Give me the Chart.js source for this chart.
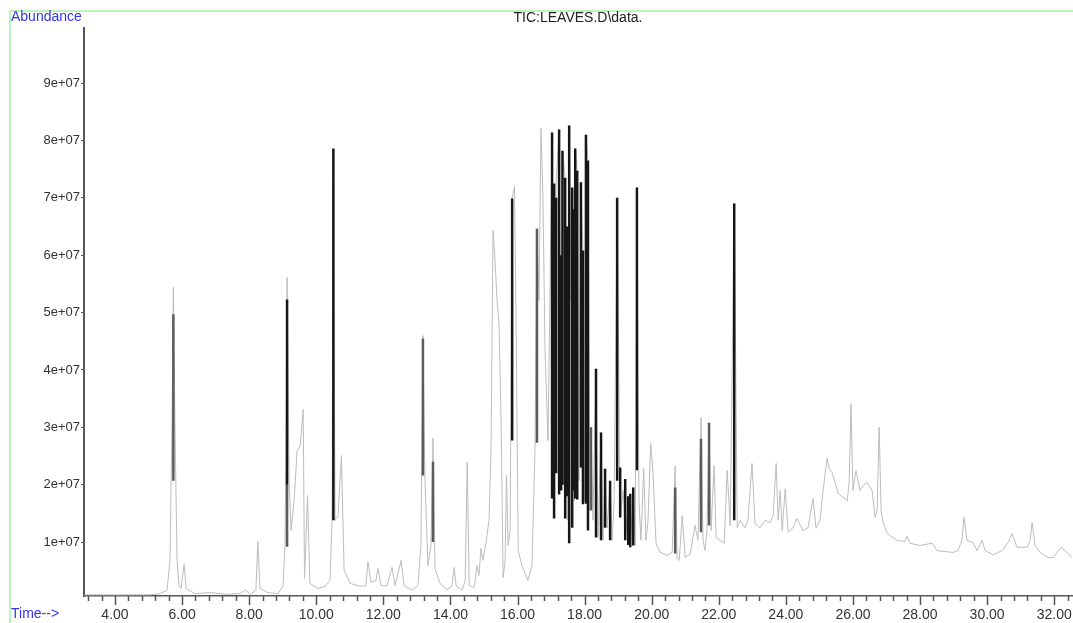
<!DOCTYPE html>
<html>
<head>
<meta charset="utf-8">
<script src="https://cdn.jsdelivr.net/npm/chart.js@4.4.1/dist/chart.umd.min.js"></script>
<style>
  html, body { margin: 0; padding: 0; background: #fff; }
  #wrap { width: 1073px; height: 623px; }
</style>
</head>
<body>
<div id="wrap"><canvas id="tic" width="1073" height="623"></canvas></div>
<script>
// TIC trace: retention time (min) and abundance (x 1e7)
const traceTime = [
  3.08, 5.04, 5.34, 5.55, 5.64, 5.70, 5.74, 5.79, 5.85, 5.91, 5.97, 6.06, 6.12, 6.39, 6.83, 7.28, 7.73, 7.88, 8.03, 8.20,
  8.26, 8.32, 8.56, 8.86, 9.01, 9.07, 9.13, 9.19, 9.25, 9.34, 9.43, 9.52, 9.61, 9.65, 9.74, 9.81, 10.05, 10.26, 10.41, 10.47,
  10.51, 10.56, 10.65, 10.75, 10.83, 11.01, 11.30, 11.48, 11.54, 11.63, 11.78, 11.84, 11.93, 12.11, 12.26, 12.35, 12.53, 12.62, 12.86, 13.03,
  13.12, 13.18, 13.24, 13.33, 13.42, 13.48, 13.54, 13.69, 13.90, 14.05, 14.11, 14.17, 14.35, 14.44, 14.50, 14.56, 14.71, 14.79, 14.85, 14.91,
  14.97, 15.06, 15.15, 15.21, 15.27, 15.33, 15.39, 15.45, 15.51, 15.57, 15.63, 15.67, 15.72, 15.78, 15.84, 15.91, 15.96, 16.02, 16.13, 16.31,
  16.43, 16.52, 16.58, 16.64, 16.70, 16.76, 16.82, 16.91, 17.03, 17.09, 17.15, 17.24, 17.30, 17.34, 17.42, 17.48, 17.54, 17.60, 17.63, 17.69,
  17.72, 17.78, 17.83, 17.89, 17.95, 18.00, 18.04, 18.10, 18.16, 18.19, 18.25, 18.34, 18.40, 18.49, 18.55, 18.61, 18.67, 18.76, 18.82, 18.88,
  18.97, 19.06, 19.15, 19.21, 19.30, 19.36, 19.45, 19.51, 19.56, 19.62, 19.68, 19.76, 19.83, 19.89, 19.97, 20.04, 20.13, 20.25, 20.46, 20.61,
  20.70, 20.76, 20.82, 20.91, 21.00, 21.15, 21.29, 21.38, 21.47, 21.53, 21.59, 21.65, 21.71, 21.77, 21.86, 21.92, 22.04, 22.16, 22.25, 22.34,
  22.46, 22.55, 22.64, 22.78, 22.87, 22.99, 23.08, 23.23, 23.38, 23.53, 23.62, 23.71, 23.77, 23.83, 23.89, 23.98, 24.07, 24.21, 24.33, 24.51,
  24.66, 24.81, 24.90, 25.02, 25.11, 25.23, 25.29, 25.38, 25.56, 25.83, 25.89, 25.94, 26.00, 26.09, 26.21, 26.33, 26.42, 26.57, 26.66, 26.72,
  26.78, 26.84, 26.90, 27.02, 27.32, 27.55, 27.61, 27.70, 28.00, 28.36, 28.51, 28.99, 29.13, 29.25, 29.31, 29.40, 29.58, 29.70, 29.85, 29.94,
  30.17, 30.45, 30.62, 30.74, 30.89, 31.19, 31.28, 31.34, 31.43, 31.58, 31.82, 31.97, 32.21, 32.42, 32.53
];
const traceAbund = [
  0.08, 0.08, 0.10, 0.16, 0.68, 3.12, 5.44, 2.94, 0.68, 0.24, 0.19, 0.61, 0.19, 0.10, 0.12, 0.09, 0.10, 0.17, 0.09, 0.16,
  1.01, 0.19, 0.12, 0.10, 0.24, 0.94, 5.61, 2.07, 1.20, 1.72, 2.60, 2.67, 3.31, 0.37, 1.81, 0.28, 0.19, 0.23, 0.33, 1.38,
  7.82, 1.38, 1.46, 2.51, 0.51, 0.28, 0.23, 0.24, 0.66, 0.30, 0.33, 0.54, 0.24, 0.24, 0.56, 0.24, 0.68, 0.24, 0.16, 0.24,
  0.94, 4.60, 2.07, 0.59, 0.94, 2.81, 0.54, 0.28, 0.17, 0.24, 0.56, 0.24, 0.16, 0.33, 2.39, 0.24, 0.21, 0.59, 0.42, 0.89,
  0.68, 0.99, 1.38, 2.60, 6.43, 5.91, 5.21, 4.77, 3.12, 0.38, 0.68, 2.16, 0.94, 1.20, 6.99, 7.20, 4.69, 0.85, 0.59, 0.33,
  0.59, 2.60, 6.46, 5.21, 8.21, 6.95, 4.34, 2.77, 8.14, 1.72, 7.25, 8.19, 2.07, 7.82, 7.35, 1.38, 8.26, 5.21, 7.18, 1.72,
  7.86, 7.47, 2.07, 7.27, 6.08, 1.72, 8.10, 7.65, 1.55, 3.00, 1.38, 4.02, 1.08, 2.91, 1.03, 2.28, 1.25, 2.07, 1.03, 1.72,
  7.00, 1.43, 1.90, 1.03, 1.72, 0.91, 1.95, 0.94, 7.18, 1.72, 1.03, 2.28, 1.03, 1.38, 2.72, 2.20, 0.98, 0.82, 0.77, 0.82,
  2.33, 0.71, 0.68, 1.46, 0.73, 0.80, 1.29, 1.03, 3.17, 1.03, 0.85, 1.20, 3.08, 1.20, 2.33, 1.08, 1.03, 0.98, 2.25, 1.29,
  6.90, 1.25, 1.38, 1.25, 1.38, 2.37, 1.32, 1.25, 1.38, 1.34, 1.46, 2.37, 1.38, 1.90, 1.20, 1.93, 1.17, 1.25, 1.41, 1.20,
  1.25, 1.76, 1.24, 1.38, 1.90, 2.46, 2.28, 2.21, 1.85, 1.72, 2.07, 3.41, 1.90, 2.25, 1.90, 2.00, 2.04, 1.90, 1.43, 1.55,
  3.00, 1.55, 1.34, 1.15, 1.03, 1.01, 1.10, 0.98, 0.94, 0.98, 0.85, 0.82, 0.85, 1.03, 1.43, 1.03, 0.99, 0.85, 1.03, 0.85,
  0.78, 0.85, 0.99, 1.15, 0.91, 0.91, 1.03, 1.34, 0.94, 0.82, 0.73, 0.73, 0.91, 0.80, 0.73
];

// integrated peaks drawn in black: time, lower and upper abundance (x 1e7)
const peakTime = [9.13, 10.51, 15.84, 17.03, 17.09, 17.15, 17.24, 17.30, 17.34, 17.42, 17.48, 17.54, 17.63, 17.69, 17.72, 17.78,
  17.89, 17.95, 18.04, 18.10, 18.34, 18.49, 18.61, 18.76, 18.97, 19.06, 19.21, 19.30, 19.36, 19.45, 19.56, 22.46];
const peakLow = [2.00, 1.38, 2.77, 1.76, 1.41, 2.20, 1.83, 1.90, 2.00, 1.41, 1.80, 0.98, 1.25, 1.90, 1.76, 1.74,
  2.30, 1.66, 1.67, 1.20, 1.08, 1.03, 1.25, 1.03, 2.07, 1.43, 1.03, 0.95, 0.91, 0.94, 2.25, 1.38];
const peakHigh = [5.23, 7.86, 6.99, 8.14, 7.25, 7.00, 8.19, 6.00, 7.82, 7.35, 6.50, 8.26, 7.18, 6.80, 7.86, 7.47,
  7.27, 6.08, 8.10, 7.65, 4.02, 2.91, 2.28, 2.07, 7.00, 2.30, 2.10, 1.80, 1.84, 1.95, 7.18, 6.90];

// integrated peaks drawn in dark grey
const shadeTime = [5.74, 9.13, 13.18, 13.48, 16.58, 18.19, 20.70, 21.47, 21.71];
const shadeLow = [2.07, 0.92, 2.16, 1.00, 2.73, 1.55, 0.80, 1.17, 1.29];
const shadeHigh = [4.97, 2.00, 4.55, 2.40, 6.46, 3.00, 1.95, 2.80, 3.08];

const xMajor = [4, 6, 8, 10, 12, 14, 16, 18, 20, 22, 24, 26, 28, 30, 32];
const yMajor = [1, 2, 3, 4, 5, 6, 7, 8, 9];

const E7 = 1e7;
const FONT = '"Liberation Sans", Arial, sans-serif';

function segments(times, lows, highs) {
    return times.flatMap((t, i) => [
        { x: t, y: lows[i] * E7 },
        { x: t, y: highs[i] * E7 },
        { x: t, y: null },
    ]);
}

const decor = {
    id: 'decor',
    beforeDraw(chart) {
        const ctx = chart.ctx;
        ctx.save();
        ctx.fillStyle = '#fff';
        ctx.fillRect(0, 0, chart.width, chart.height);
        ctx.restore();
    },
    afterDraw(chart) {
        const ctx = chart.ctx;
        const xs = chart.scales.x;
        const area = chart.chartArea;
        ctx.save();

        // green frame
        ctx.strokeStyle = '#a6f0a6';
        ctx.lineWidth = 1.5;
        ctx.beginPath();
        ctx.moveTo(10, 623);
        ctx.lineTo(10, 11);
        ctx.lineTo(1073, 11);
        ctx.stroke();

        // time ticks, minor every 0.4 min
        ctx.strokeStyle = '#555';
        ctx.lineWidth = 1.5;
        for (let i = 0; ; i++) {
            const v = Math.round((3.2 + i * 0.4) * 10) / 10;
            if (v > xs.max) break;
            const major = xMajor.includes(v);
            const px = Math.round(xs.getPixelForValue(v)) + 0.5;
            ctx.beginPath();
            ctx.moveTo(px, area.bottom);
            ctx.lineTo(px, area.bottom + (major ? 9 : 5));
            ctx.stroke();
        }

        ctx.font = '14px ' + FONT;
        ctx.textBaseline = 'middle';
        ctx.textAlign = 'left';
        ctx.fillStyle = '#3434f2';
        ctx.fillText('Abundance', 11, 17);
        ctx.fillText('Time-->', 11, 614);

        ctx.fillStyle = '#222';
        ctx.textAlign = 'center';
        ctx.fillText('TIC:LEAVES.D\\data.', (area.left + area.right) / 2, 18);
        ctx.restore();
    }
};

new Chart(document.getElementById('tic'), {
    type: 'line',
    data: {
        datasets: [
            {
                data: segments(peakTime, peakLow, peakHigh),
                borderColor: '#161616',
                borderWidth: 2.5,
                pointRadius: 0,
                spanGaps: false,
                order: 1,
            },
            {
                data: segments(shadeTime, shadeLow, shadeHigh),
                borderColor: '#5c5c5c',
                borderWidth: 2.5,
                pointRadius: 0,
                spanGaps: false,
                order: 2,
            },
            {
                data: traceTime.map((t, i) => ({ x: t, y: traceAbund[i] * E7 })),
                borderColor: '#bdbdbd',
                borderWidth: 1,
                pointRadius: 0,
                tension: 0,
                order: 3,
            },
        ]
    },
    options: {
        responsive: false,
        animation: false,
        devicePixelRatio: 1,
        events: [],
        layout: { padding: { left: 0, right: 1, top: 28, bottom: 0 } },
        plugins: { legend: { display: false }, tooltip: { enabled: false } },
        scales: {
            x: {
                type: 'linear',
                min: 3.076,
                max: 32.53,
                afterBuildTicks: s => { s.ticks = xMajor.map(v => ({ value: v })); },
                afterFit: s => {
                    s.height = 27;
                    s.paddingLeft = 0;
                    s.paddingRight = 0;
                },
                border: { color: '#555', width: 1.5 },
                grid: { drawOnChartArea: false, drawTicks: false },
                ticks: {
                    autoSkip: false,
                    maxRotation: 0,
                    padding: 11,
                    color: '#333',
                    font: { size: 14, family: FONT },
                    callback: v => v.toFixed(2),
                }
            },
            y: {
                type: 'linear',
                min: 0.06 * E7,
                max: 9.96 * E7,
                afterBuildTicks: s => { s.ticks = yMajor.map(v => ({ value: v * E7 })); },
                afterFit: s => {
                    s.width = 84;
                    s.paddingTop = 0;
                    s.paddingBottom = 0;
                },
                border: { color: '#555', width: 2 },
                grid: { drawOnChartArea: false, tickLength: 3, tickColor: '#555' },
                ticks: {
                    padding: 1,
                    color: '#333',
                    font: { size: 13, family: FONT },
                    callback: v => Math.round(v / E7) + 'e+07',
                }
            }
        }
    },
    plugins: [decor]
});
</script>
</body>
</html>
